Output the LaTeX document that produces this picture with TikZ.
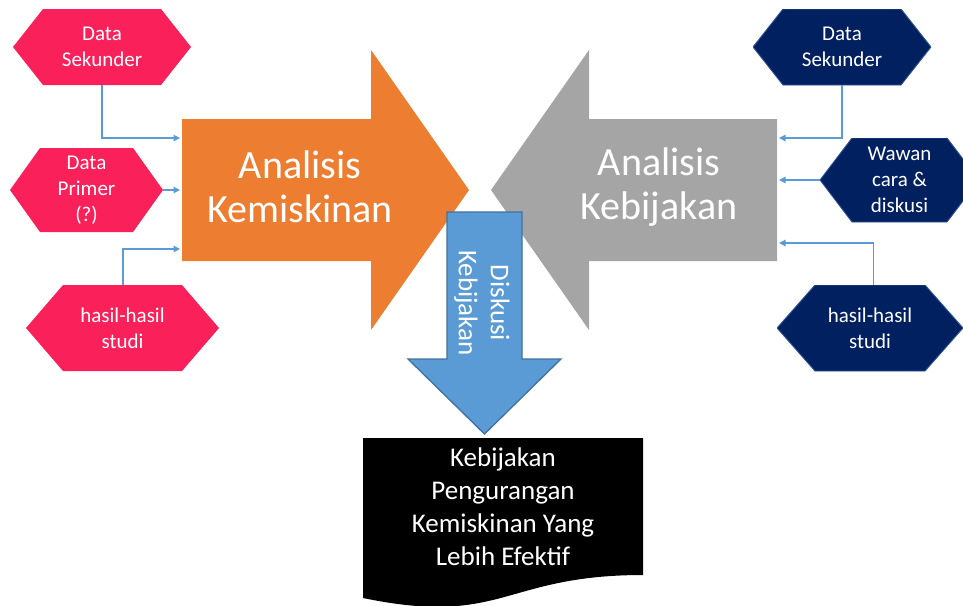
\documentclass[tikz,border=0pt]{standalone}
\usepackage{fontspec}
\setmainfont{Carlito}
\usetikzlibrary{arrows.meta,calc}

\definecolor{hexpink}{RGB}{250,33,90}
\definecolor{hexnavy}{RGB}{0,32,96}
\definecolor{navyline}{RGB}{47,85,151}
\definecolor{kemorange}{RGB}{237,125,49}
\definecolor{kebgray}{RGB}{165,165,165}
\definecolor{flowblue}{RGB}{91,155,213}
\definecolor{flowblueline}{RGB}{65,113,156}

\tikzset{
  hexdepth/.code={\def\hexdepth{#1}},
  hexdepth=30,
  hexagon/.style={shape=rectangle, inner sep=0pt, text=white, align=center,
    font=\fontsize{21}{26}\selectfont,
    path picture={
      \path[hexpaint] (path picture bounding box.west)
        -- ([xshift=\hexdepth]path picture bounding box.north west)
        -- ([xshift=-\hexdepth]path picture bounding box.north east)
        -- (path picture bounding box.east)
        -- ([xshift=-\hexdepth]path picture bounding box.south east)
        -- ([xshift=\hexdepth]path picture bounding box.south west)
        -- cycle;}},
  pinkhex/.style={hexagon, hexpaint/.style={fill=hexpink}},
  navyhex/.style={hexagon, hexpaint/.style={fill=hexnavy, draw=navyline, line width=0.9pt}},
  body/.style={shape=rectangle, inner sep=0pt, outer sep=2pt},
  bigtext/.style={text=white, align=center, font=\fontsize{40}{44}\selectfont},
  conn/.style={draw=flowblue, line width=1.2pt, -{Triangle[length=6.5pt,width=6.5pt]}},
  doctext/.style={text=white, align=center, font=\fontsize{27}{33}\selectfont},
}

\begin{document}
\begin{tikzpicture}[x=1pt,y=-1pt]
\useasboundingbox (0,0) rectangle (963,605);

% the two analysis arrows
\fill[kemorange] (182,119) -- (371,119) -- (371,50) -- (469,190) -- (371,330) -- (371,261) -- (182,261) -- cycle;
\fill[kebgray] (777,119) -- (589,119) -- (589,50) -- (491,190) -- (589,330) -- (589,261) -- (777,261) -- cycle;
\node[body, minimum width=189, minimum height=142] (kbody) at (276.5,190) {};
\node[body, minimum width=188, minimum height=142] (gbody) at (683,190) {};
\node[bigtext] (ktext) at (300,187) {Analisis\\Kemiskinan};
\node[bigtext] (gtext) at (659,187) {Analisis\\Kebijakan};

% policy discussion arrow
\filldraw[fill=flowblue, draw=flowblueline, line width=1.3pt]
  (447,212) -- (522,212) -- (522,359) -- (561,359) -- (484.5,434) -- (408,359) -- (447,359) -- cycle;
\node[text=white, align=center, rotate=-90, font=\fontsize{27}{32}\selectfont] (disk) at (482,303) {Diskusi\\Kebijakan};

% resulting policy document
\fill[black] (363,438) -- (643,438) -- (643,575) .. controls (503,575) and (503,627) .. (363,598) -- cycle;
\node[doctext] (doc) at (503,507) {Kebijakan\\Pengurangan\\Kemiskinan Yang\\Lebih Efektif};

% inputs on the left
\node[pinkhex, hexdepth=30, minimum width=178, minimum height=76] (L1) at (102,47) {Data\\Sekunder};
\node[pinkhex, hexdepth=30, minimum width=153, minimum height=84] (L2) at (86.5,190) {Data\\Primer\\(?)};
\node[pinkhex, hexdepth=37, minimum width=193, minimum height=86] (L3) at (122.5,328) {hasil-hasil\\studi};

% inputs on the right
\node[navyhex, hexdepth=30, minimum width=178, minimum height=76] (R1) at (842,47) {Data\\Sekunder};
\node[navyhex, hexdepth=32, minimum width=159, minimum height=84] (R2) at (899.5,180) {Wawan\\cara \&\\diskusi};
\node[navyhex, hexdepth=38, minimum width=186, minimum height=86] (R3) at (870,328) {hasil-hasil\\studi};

% connectors
\draw[conn] (L1.south) |- ($(kbody.north west)!0.144!(kbody.south west)$);
\draw[conn] (L2.east) -- (L2.east -| kbody.west);
\draw[conn] ([xshift=0.5]L3.north) |- ($(kbody.north west)!0.904!(kbody.south west)$);
\draw[conn] (R1.south) |- ($(gbody.north east)!0.144!(gbody.south east)$);
\draw[conn] (R2.west) -- (R2.west -| gbody.east);
\draw[conn] ([xshift=3.5]R3.north) |- ($(gbody.north east)!0.863!(gbody.south east)$);
\end{tikzpicture}
\end{document}
